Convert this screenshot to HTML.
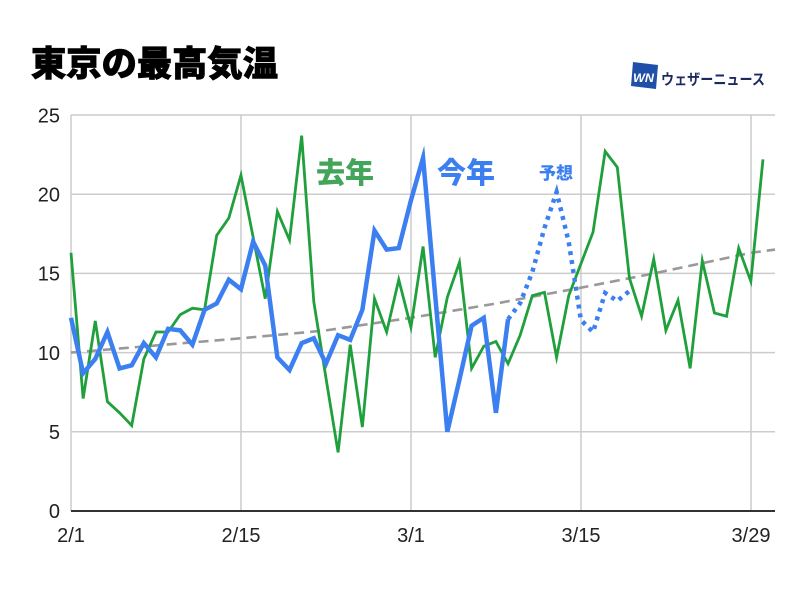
<!DOCTYPE html>
<html><head><meta charset="utf-8"><style>
html,body{margin:0;padding:0;background:#fff;}
svg{display:block;}
</style></head><body>
<svg width="800" height="600" viewBox="0 0 800 600" xmlns="http://www.w3.org/2000/svg">
<rect width="800" height="600" fill="#fff"/>
<!-- title -->
<text x="31" y="76" font-family="'Liberation Sans','Noto Sans CJK JP',sans-serif" font-weight="900" font-size="35" fill="#000" stroke="#000" stroke-width="0.8" textLength="247" lengthAdjust="spacingAndGlyphs">東京の最高気温</text>
<!-- logo -->
<polygon points="633,62 658,65 656,89 631,86" fill="#1f4fa6"/>
<text x="633" y="82" font-family="'Liberation Sans',sans-serif" font-style="italic" font-weight="bold" font-size="12" fill="#fff" textLength="21" lengthAdjust="spacingAndGlyphs">WN</text>
<text x="661" y="84.5" font-family="'Liberation Sans','Noto Sans CJK JP',sans-serif" font-weight="bold" font-size="15" fill="#1b2a5e" textLength="104" lengthAdjust="spacingAndGlyphs">ウェザーニュース</text>
<!-- grid -->
<g stroke="#cccccc" stroke-width="1.5" fill="none">
<line x1="71" y1="115" x2="775" y2="115"/>
<line x1="71" y1="194.2" x2="775" y2="194.2"/>
<line x1="71" y1="273.4" x2="775" y2="273.4"/>
<line x1="71" y1="352.6" x2="775" y2="352.6"/>
<line x1="71" y1="431.8" x2="775" y2="431.8"/>
<line x1="71" y1="115" x2="71" y2="511"/>
<line x1="241" y1="115" x2="241" y2="511"/>
<line x1="411" y1="115" x2="411" y2="511"/>
<line x1="581" y1="115" x2="581" y2="511"/>
<line x1="751" y1="115" x2="751" y2="511"/>
</g>
<line x1="71" y1="511" x2="775" y2="511" stroke="#333" stroke-width="2"/>
<!-- y labels -->
<g font-family="'Liberation Sans',sans-serif" font-size="20" fill="#222" text-anchor="end">
<text x="60" y="122.5">25</text>
<text x="60" y="201.5">20</text>
<text x="60" y="280.5">15</text>
<text x="60" y="360">10</text>
<text x="60" y="439">5</text>
<text x="60" y="518">0</text>
</g>
<g font-family="'Liberation Sans',sans-serif" font-size="20" fill="#222" text-anchor="middle">
<text x="71" y="542">2/1</text>
<text x="241" y="542">2/15</text>
<text x="411" y="542">3/1</text>
<text x="581" y="542">3/15</text>
<text x="751" y="542">3/29</text>
</g>
<!-- trend -->
<polyline fill="none" stroke="#999" stroke-width="2.6" stroke-dasharray="10 6" points="71,352.6 241,338.3 326,330.4 411,317.8 496,303.5 581,287.7 654,273.4 751,252.8 775,249.6"/>
<!-- last year -->
<polyline fill="none" stroke="#20a03c" stroke-width="2.8" stroke-linejoin="miter" stroke-miterlimit="6" points="71,252.8 83.14,398.5 95.28,320.9 107.42,401.7 119.56,412.8 131.7,425.5 143.84,358.9 155.98,332 168.12,332 180.26,314.6 192.4,308.2 204.54,309.8 216.68,235.4 228.82,218 240.96,175.2 253.1,237 265.24,298.7 277.38,211.6 289.52,240.1 301.66,135.6 313.8,301.9 325.94,377.9 338.08,452.4 350.22,344.7 362.36,427 374.5,298.7 386.64,332 398.78,279.7 410.92,327.3 423.06,246.5 435.2,357.4 447.34,297.2 459.48,262.3 471.62,368.4 483.76,346.3 495.9,341.5 508.04,363.7 520.18,335.2 532.32,295.6 544.46,292.4 556.6,357.4 568.74,295.6 580.88,263.9 593.02,232.2 605.16,151.4 617.3,167.3 629.44,278.2 641.58,316.2 653.72,259.1 665.86,330.4 678,300.3 690.14,368.4 702.28,260.7 714.42,313 726.56,316.2 738.7,248.1 750.84,281.3 762.98,159.4"/>
<!-- this year -->
<polyline fill="none" stroke="#3b7ff0" stroke-width="4.5" stroke-linejoin="miter" stroke-miterlimit="6" points="71,317.8 83.14,373.2 95.28,358.9 107.42,332 119.56,368.4 131.7,365.3 143.84,343.1 155.98,357.4 168.12,328.8 180.26,330.4 192.4,344.7 204.54,309.8 216.68,303.5 228.82,279.7 240.96,289.2 253.1,241.7 265.24,265.5 277.38,357.4 289.52,370 301.66,343.1 313.8,338.3 325.94,363.7 338.08,335.2 350.22,339.9 362.36,309.8 374.5,230.6 386.64,249.6 398.78,248.1 410.92,200.5 423.06,157.8 435.2,295.6 447.34,431.8 459.48,379.5 471.62,325.7 483.76,317.8 495.9,412.8 508.04,319.3"/>
<!-- forecast -->
<polyline fill="none" stroke="#3b7ff0" stroke-width="4.5" stroke-dasharray="4 5" stroke-linejoin="miter" points="508.04,319.3 520.18,303 532.32,272 544.46,228 556.6,192 568.74,242 580.88,320 593.02,332 605.16,293 617.3,301 629.44,291"/>
<!-- labels -->
<g font-family="'Liberation Sans','Noto Sans CJK JP',sans-serif" font-weight="900">
<text x="316" y="183" font-size="29" fill="#43a559">去年</text>
<text x="437" y="183" font-size="29" fill="#3b7ff0">今年</text>
<text x="556" y="179" font-size="17" fill="#3b7ff0" text-anchor="middle">予想</text>
</g>
</svg>
</body></html>
